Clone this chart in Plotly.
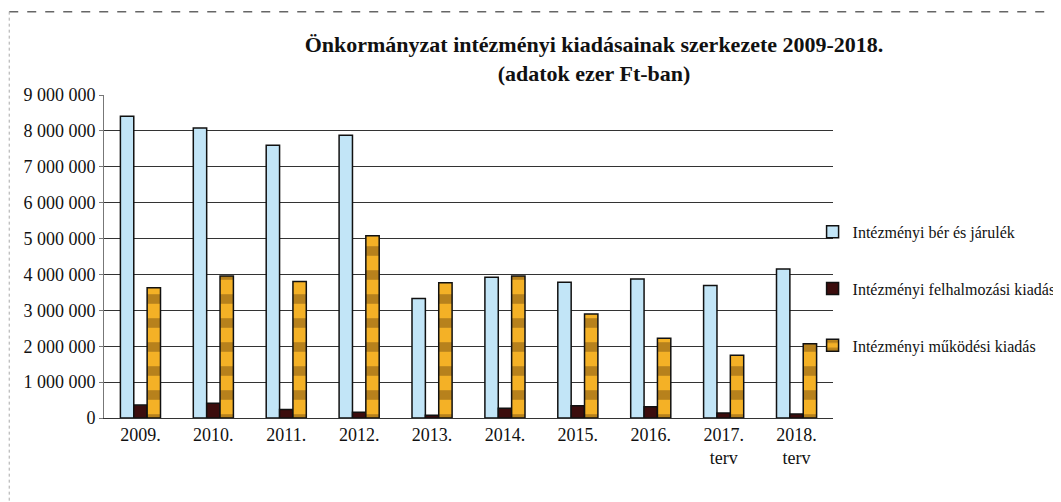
import plotly.graph_objects as go

# years (x categories)
evek = ["2009.", "2010.", "2011.", "2012.", "2013.", "2014.", "2015.", "2016.",
        "2017.<br>terv", "2018.<br>terv"]

# values in thousand Ft
ber = [8410000, 8080000, 7600000, 7880000, 3330000, 3920000, 3780000, 3870000, 3690000, 4150000]
felhalmozasi = [360000, 410000, 240000, 160000, 80000, 270000, 340000, 310000, 140000, 110000]
mukodesi = [3630000, 3960000, 3800000, 5080000, 3770000, 3960000, 2900000, 2220000, 1750000, 2070000]

font_serif = "Liberation Serif, Times New Roman, serif"

fig = go.Figure()

fig.add_trace(go.Bar(
    x=evek, y=ber, name="Intézményi bér és járulék", legendgroup="a",
    marker=dict(color="#c2e5f7", line=dict(color="#111111", width=1.5))
))
fig.add_trace(go.Bar(
    x=evek, y=felhalmozasi, name="Intézményi felhalmozási kiadás", legendgroup="b",
    marker=dict(color="#3c0d0d", line=dict(color="#111111", width=1.5))
))
fig.add_trace(go.Bar(
    x=evek, y=mukodesi, name="Intézményi működési kiadás", legendgroup="c",
    marker=dict(color="#f4b126", line=dict(color="#111111", width=1.5),
                pattern=dict(shape="-", fgcolor="#7a5212", size=24, solidity=0.4))
))

# page has an 8px body margin, so the figure is drawn a bit smaller
fig.update_layout(
    width=1053, height=494,
    barmode="group", bargap=0.45, bargroupgap=0,
    separators=", ",
    paper_bgcolor="white", plot_bgcolor="white",
    margin=dict(l=96, r=228, t=87, b=84, autoexpand=False),
    font=dict(family=font_serif, size=18, color="#111111"),
    title=dict(
        text="<b>Önkormányzat intézményi kiadásainak szerkezete 2009-2018.<br>(adatok ezer Ft-ban)</b>",
        x=0.5565, xanchor="center", y=0.91, yanchor="top",
        font=dict(family=font_serif, size=22, color="#111111")
    ),
    legend=dict(
        x=0.972, xanchor="left", y=0.40, yanchor="middle",
        font=dict(family=font_serif, size=16, color="#111111"),
        tracegroupgap=33, itemwidth=30,
        bgcolor="rgba(0,0,0,0)"
    ),
    showlegend=True,
)

fig.update_yaxes(
    range=[0, 9000000], dtick=1000000, tickformat=",d",
    showgrid=True, gridcolor="#333333", gridwidth=1,
    showline=True, linecolor="#777777", linewidth=1,
    ticks="outside", ticklen=4, tickcolor="#777777",
    tickfont=dict(family=font_serif, size=18)
)
fig.update_xaxes(
    showline=True, linecolor="#333333", linewidth=1,
    ticks="", tickfont=dict(family=font_serif, size=18)
)

# outer frame of the chart object (top and left edges)
fig.add_shape(type="line", xref="paper", yref="paper", x0=-0.13, x1=1.32, y0=1.258, y1=1.258,
              line=dict(color="#666666", width=1.5, dash="dash"))
fig.add_shape(type="line", xref="paper", yref="paper", x0=-0.13, x1=-0.13, y0=1.258, y1=-0.26,
              line=dict(color="#aaaaaa", width=1, dash="dot"))

fig.write_html("out.html")
